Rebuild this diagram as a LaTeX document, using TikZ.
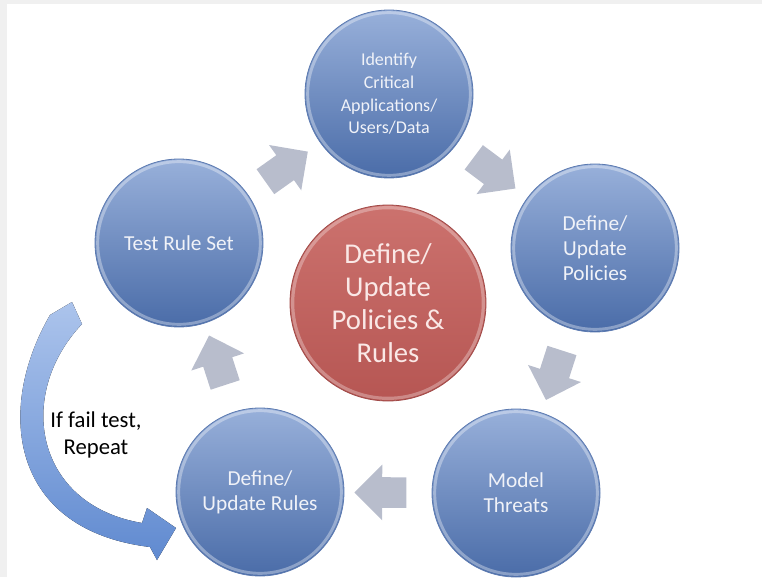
\documentclass[tikz,border=0pt]{standalone}
\usepackage{fontspec}
\setmainfont{Carlito}
\usetikzlibrary{shapes.arrows}

\definecolor{bluetop}{RGB}{152,176,218}
\definecolor{bluebot}{RGB}{74,108,168}
\definecolor{blueedge}{RGB}{92,122,176}
\definecolor{redtop}{RGB}{204,114,110}
\definecolor{redbot}{RGB}{182,86,83}
\definecolor{rededge}{RGB}{160,74,72}
\definecolor{stagetext}{RGB}{240,242,248}
\definecolor{coretext}{RGB}{250,232,230}
\definecolor{turngrey}{RGB}{184,189,204}
\definecolor{looptop}{RGB}{172,196,236}
\definecolor{loopbot}{RGB}{96,138,208}
\definecolor{framegrey}{RGB}{240,240,240}

\begin{document}
\begin{tikzpicture}[x=0.75pt, y=-0.75pt,
	stage/.style={circle, minimum size=126pt, inner sep=0pt, align=center,
		text=stagetext, font=\fontsize{16}{18.75}\selectfont,
		top color=bluetop, bottom color=bluebot, draw=blueedge, line width=.6pt,
		path picture={\draw[white, opacity=.35, line width=2.2pt]
			(path picture bounding box.center) circle (61pt);}},
	core/.style={circle, minimum size=147pt, inner sep=0pt, align=center,
		text=coretext, font=\fontsize{21.5}{24.75}\selectfont,
		top color=redtop, bottom color=redbot, draw=rededge, line width=.6pt,
		path picture={\draw[white, opacity=.3, line width=2.4pt]
			(path picture bounding box.center) circle (71.5pt);}},
	turn/.style={single arrow, fill=turngrey, draw=none, inner xsep=0pt,
		inner ysep=11.25pt, minimum width=0pt, minimum height=39pt,
		single arrow head extend=9.4pt, sloped, allow upside down}]

	\useasboundingbox (0,0) rectangle (762,577);
	\fill[framegrey] (0,0) rectangle (762,4);
	\fill[framegrey] (0,0) rectangle (7,577);

	\node [core] (core) at (388,303) {Define/\\Update\\Policies \&\\Rules};

	\node [stage, font=\fontsize{13.5}{17}\selectfont] (identify) at (389,94)
		{Identify\\Critical\\Applications/\\Users/Data};
	\node [stage] (policies) at (595,248) {Define/\\Update\\Policies};
	\node [stage] (threats) at (516,493) {Model\\Threats};
	\node [stage] (rules) at (260,492) {Define/\\Update Rules};
	\node [stage] (testset) at (179,243) {Test Rule Set};

	% grey block arrows between the stages
	\path (testset) -- node[turn, pos=.45] (t1) {} (identify);
	\path (identify) -- node[turn, pos=.45] (t2) {} (policies);
	\path (policies) -- node[turn, pos=.47] (t3) {} (threats);
	\path (threats) -- node[turn] (t4) {} (rules);
	\path (rules) -- node[turn] (t5) {} (testset);

	% curved return arrow on the left
	\fill[top color=looptop, bottom color=loopbot]
		(72,302) -- (82,324) .. controls (15,395) and (35,505) .. (142,523)
		-- (147,508) -- (176,528) -- (157,560) -- (150,547)
		.. controls (10,530) and (-5,410) .. (50,315) -- cycle;

	\node [align=center, font=\fontsize{17}{20}\selectfont] (retry) at (96,435)
		{If fail test,\\Repeat};

\end{tikzpicture}
\end{document}
